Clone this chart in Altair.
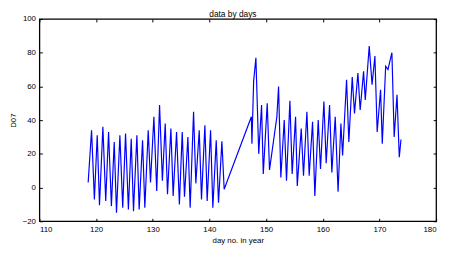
import altair as alt
import pandas as pd

days = [118.6, 119.2, 119.7, 120.2, 120.6, 121.2, 121.7, 122.2, 122.7, 123.2,
        123.6, 124.2, 124.7, 125.2, 125.7, 126.2, 126.6, 127.2, 127.6, 128.2,
        128.6, 129.2, 129.6, 130.2, 130.7, 131.2, 131.7, 132.2, 132.6, 133.2,
        133.6, 134.2, 134.7, 135.2, 135.6, 136.2, 136.6, 137.2, 137.6, 138.2,
        138.6, 139.2, 139.6, 140.2, 140.6, 141.2, 141.6, 142.2, 142.6,
        147.4, 147.5, 147.8, 148.2, 148.7, 149.2, 149.5, 150.2, 150.6, 151.9,
        152.2, 152.6, 153.2, 153.6, 154.2, 154.6, 155.2, 155.5, 156.2, 156.6,
        157.2, 157.6, 158.2, 158.6, 159.2, 159.6, 160.2, 160.6, 161.2, 161.6,
        162.2, 162.7, 163.2, 163.5, 164.2, 164.6, 165.2, 165.6, 166.2, 166.6,
        167.2, 167.5, 168.2, 168.7, 169.2, 169.6, 170.2, 170.5, 171.1, 171.5,
        172.2, 172.6, 173.1, 173.5, 173.8]
values = [3, 34, -7, 31, -10.5, 36, -8, 33, -11, 27,
          -15, 31, -12, 32, -13, 29, -14, 31, -13, 28,
          -12, 34, 3, 42, -2, 49, 4, 38, -4, 35,
          -5, 33, -10, 33, -5.5, 30, -12, 45, 2.5, 34,
          -7, 37, -8, 34, -12, 28, -9, 27.5, -1,
          42, 26, 63, 77, 20, 49, 8, 50, 10.5, 42,
          60, 6, 40, 4, 51.5, 8, 42, 1, 35, 7,
          45, 7, 39, -5, 40, 11, 51, 14.5, 49, 9,
          42, -2.5, 38, 19, 64, 27, 65.5, 44, 68, 46,
          69, 52, 84, 61, 78, 33, 58, 26, 72, 70,
          80, 30, 55, 18, 28.5]

x_ticks = [110, 120, 130, 140, 150, 160, 170, 180]
y_ticks = [-20, 0, 20, 40, 60, 80, 100]

df = pd.DataFrame({"day": days, "D07": values})
FONT = "Liberation Sans"

xs = alt.Scale(domain=[110, 180], nice=False, zero=False)
ys = alt.Scale(domain=[-20, 100], nice=False, zero=False)

common = dict(domain=False, grid=False, tickSize=3, offset=-3, tickColor="black",
              labelFont=FONT, labelFontSize=8, labelColor="black",
              titleFont=FONT, titleFontSize=8, titleFontWeight="normal", titleColor="black")

main = alt.Chart(df).mark_line(color="#0000ff", strokeWidth=1.2).encode(
    x=alt.X("day:Q", scale=xs, axis=alt.Axis(values=x_ticks, title="day no. in year",
                                              labelPadding=4, titlePadding=4, **common)),
    y=alt.Y("D07:Q", scale=ys, axis=alt.Axis(values=y_ticks, title="D07",
                                              labelPadding=4, titlePadding=5, **common)),
    order="day:Q",
)

frame = alt.Chart(df).mark_line(opacity=0).encode(
    x=alt.X("day:Q", scale=xs, axis=alt.Axis(values=x_ticks, orient="top", labels=False,
                                              title=None, **common)),
    y=alt.Y("D07:Q", scale=ys, axis=alt.Axis(values=y_ticks, orient="right", labels=False,
                                              title=None, **common)),
)

chart = alt.layer(main, frame).resolve_axis(x="independent", y="independent").properties(
    width=404, height=206,
    background="white",
    autosize=alt.AutoSizeParams(type="none"),
    padding={"left": 32, "top": 9, "right": 6, "bottom": 24},
    title=alt.TitleParams("data by days", font=FONT, fontSize=8.5, fontWeight="normal",
                          color="black", offset=-3, dx=-5),
).configure_view(stroke="black", strokeWidth=1.3)

chart.save("out.html", embed_options={"renderer": "svg", "actions": False})
